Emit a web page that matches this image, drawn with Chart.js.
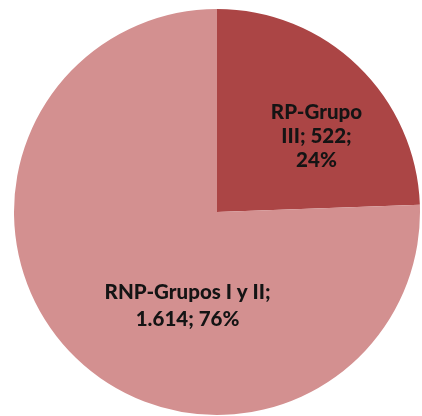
<!DOCTYPE html>
<html>
<head>
<meta charset="utf-8">
<script src="https://cdn.jsdelivr.net/npm/chart.js@4/dist/chart.umd.min.js"></script>
<style>
  html, body { margin: 0; padding: 0; background: #fff; }
  #wrap { width: 422px; height: 416px; }
</style>
</head>
<body>
<div id="wrap"><canvas id="chart" width="422" height="416"></canvas></div>
<script>
const categories = ["RP-Grupo III", "RNP-Grupos I y II"];
const values = [522, 1614];
const sliceColors = ["#AB4545", "#D39090"];

// where each label sits, as a fraction of the radius from the centre (first baseline)
const labelSpots = [
  { dx: 0.49, dy: -0.458, wrap: 105, lineHeight: 24 },
  { dx: -0.145, dy: 0.429, wrap: 185, lineHeight: 27 },
];

function formatThousands(n) {
  return String(n).replace(/\B(?=(\d{3})+(?!\d))/g, ".");
}

function wrapText(ctx, text, maxWidth) {
  const words = text.split(" ");
  const lines = [];
  let line = "";
  words.forEach((w) => {
    const test = line ? line + " " + w : w;
    if (line && ctx.measureText(test).width > maxWidth) {
      lines.push(line);
      line = w;
    } else {
      line = test;
    }
  });
  if (line) lines.push(line);
  return lines;
}

const sliceLabels = {
  id: "sliceLabels",
  afterDatasetsDraw(chart) {
    const ctx = chart.ctx;
    const meta = chart.getDatasetMeta(0);
    const total = values.reduce((a, b) => a + b, 0);
    ctx.save();
    ctx.font = "900 20.5px Lato";
    ctx.fillStyle = "#141414";
    ctx.textAlign = "center";
    ctx.textBaseline = "alphabetic";
    meta.data.forEach((arc, i) => {
      const spot = labelSpots[i];
      const pct = Math.round((values[i] / total) * 100);
      const text = categories[i] + "; " + formatThousands(values[i]) + "; " + pct + "%";
      const lines = wrapText(ctx, text, spot.wrap);
      const x = arc.x + spot.dx * arc.outerRadius;
      const y = arc.y + spot.dy * arc.outerRadius;
      lines.forEach((l, k) => ctx.fillText(l, x, y + k * spot.lineHeight));
    });
    ctx.restore();
  },
};

new Chart(document.getElementById("chart").getContext("2d"), {
  type: "pie",
  data: {
    labels: categories,
    datasets: [
      {
        data: values,
        backgroundColor: sliceColors,
        borderWidth: 0,
      },
    ],
  },
  options: {
    responsive: false,
    animation: false,
    layout: {
      padding: { left: 14, top: 9, right: 2, bottom: 1 },
    },
    plugins: {
      legend: { display: false },
      tooltip: { enabled: false },
    },
  },
  plugins: [sliceLabels],
});
</script>
</body>
</html>
